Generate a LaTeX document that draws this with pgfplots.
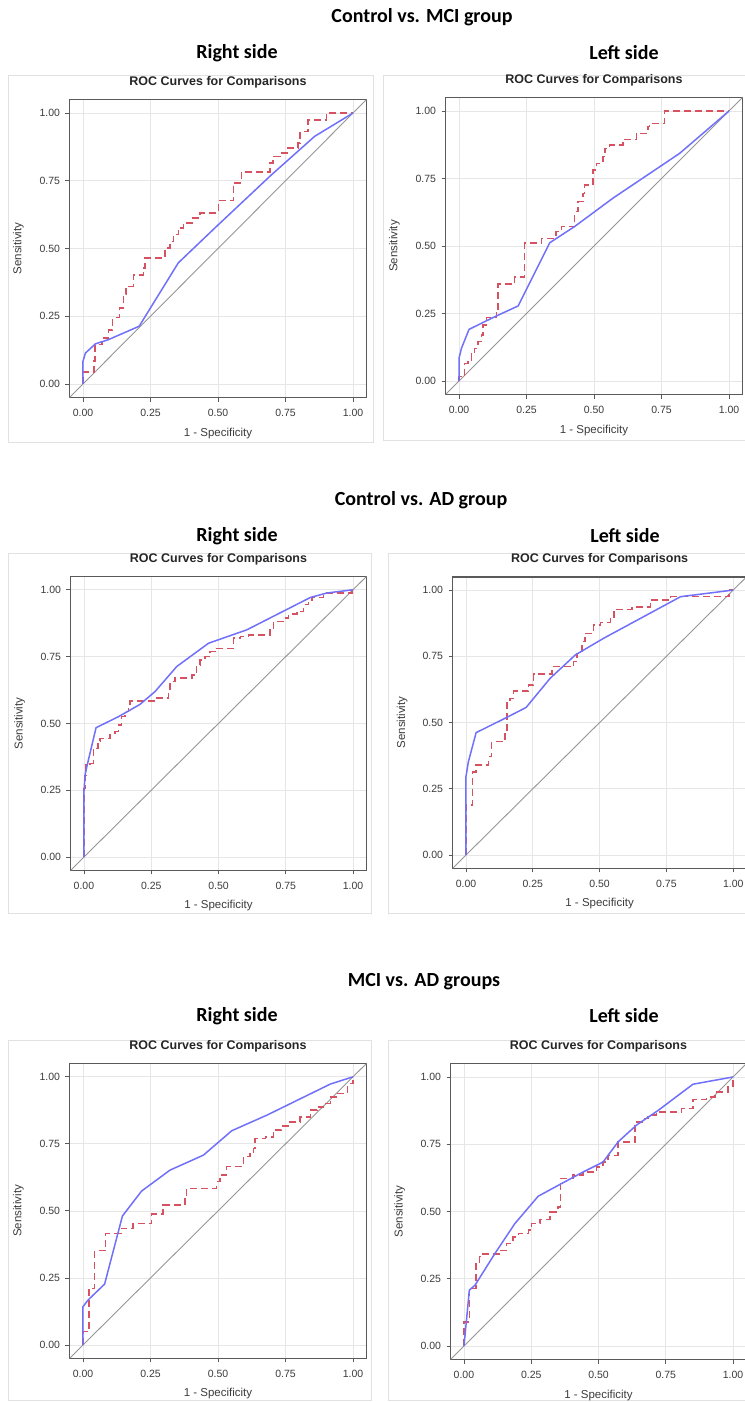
\documentclass[border=0pt]{standalone}
\usepackage{fontspec}
\setmainfont{Liberation Sans}
\newfontfamily\calibri{Carlito}
\usepackage{pgfplots}
\pgfplotsset{compat=1.18}

\definecolor{rocblue}{RGB}{112,112,250}
\definecolor{rocred}{RGB}{214,82,96}
\definecolor{diagc}{RGB}{150,150,150}
\definecolor{gridc}{RGB}{230,230,230}
\definecolor{axc}{RGB}{90,90,90}
\definecolor{txt}{RGB}{60,60,60}
\definecolor{framec}{RGB}{225,225,225}

\pgfplotsset{
  roc/.style={
    scale only axis, anchor=south west,
    xmin=-0.05, xmax=1.05, ymin=-0.05, ymax=1.05,
    xtick={0,0.25,0.5,0.75,1}, ytick={0,0.25,0.5,0.75,1},
    xticklabels={0.00,0.25,0.50,0.75,1.00},
    yticklabels={0.00,0.25,0.50,0.75,1.00},
    tick pos=left, tick align=outside, major tick length=4pt,
    grid=major, major grid style={draw=gridc, line width=0.8pt},
    axis line style={draw=axc, line width=1.4pt},
    tick style={draw=axc, line width=0.9pt},
    ticklabel style={font=\fontsize{10.5}{11}\selectfont, text=txt},
    xticklabel style={yshift=-4pt},
    yticklabel style={xshift=-2pt},
    title={ROC Curves for Comparisons},
    title style={at={(axis description cs:0.5,1)}, anchor=center, yshift=11.5pt,
      font=\bfseries\fontsize{12.5}{13}\selectfont, text=black!85},
    xlabel={1 - Specificity}, ylabel={Sensitivity},
    xlabel style={at={(axis description cs:0.5,-0.12)}, anchor=center,
      font=\fontsize{11.5}{12}\selectfont, text=txt},
    ylabel style={at={(axis description cs:-0.172,0.5)}, anchor=center,
      font=\fontsize{11.5}{12}\selectfont, text=txt},
  },
  diagline/.style={diagc, line width=0.9pt},
  bluecurve/.style={rocblue, line width=1.5pt},
  redcurve/.style={const plot, rocred, line width=1.5pt, dash pattern=on 7pt off 4pt},
}

\begin{document}
\begin{tikzpicture}
\path[use as bounding box] (0,0) rectangle (744pt,-1402pt);
\fill[white] (0,0) rectangle (744pt,-1402pt);

% panel frames
\draw[framec, line width=0.8pt] (8pt,-75pt) rectangle (373pt,-442pt);
\draw[framec, line width=0.8pt] (383pt,-75pt) rectangle (750pt,-440pt);
\draw[framec, line width=0.8pt] (8pt,-553pt) rectangle (371pt,-913pt);
\draw[framec, line width=0.8pt] (388pt,-553pt) rectangle (750pt,-913pt);
\draw[framec, line width=0.8pt] (8pt,-1040pt) rectangle (371pt,-1400pt);
\draw[framec, line width=0.8pt] (388pt,-1040pt) rectangle (750pt,-1400pt);

% headings
\node[font=\calibri\bfseries\fontsize{20}{22}\selectfont] at (422pt,-17pt) {Control vs. MCI group};
\node[font=\calibri\bfseries\fontsize{20}{22}\selectfont] at (237pt,-53pt) {Right side};
\node[font=\calibri\bfseries\fontsize{20}{22}\selectfont] at (624pt,-53pt) {Left side};
\node[font=\calibri\bfseries\fontsize{20}{22}\selectfont] at (421pt,-500pt) {Control vs. AD group};
\node[font=\calibri\bfseries\fontsize{20}{22}\selectfont] at (237pt,-536pt) {Right side};
\node[font=\calibri\bfseries\fontsize{20}{22}\selectfont] at (625pt,-536pt) {Left side};
\node[font=\calibri\bfseries\fontsize{20}{22}\selectfont] at (424pt,-982pt) {MCI vs. AD groups};
\node[font=\calibri\bfseries\fontsize{20}{22}\selectfont] at (237pt,-1016pt) {Right side};
\node[font=\calibri\bfseries\fontsize{20}{22}\selectfont] at (624pt,-1016pt) {Left side};

% Control vs MCI, right
\begin{axis}[roc, at={(69.5pt,-397.5pt)}, width=297pt, height=298pt]
\addplot[diagline] coordinates {(-0.05,-0.05) (1.05,1.05)};
\addplot[redcurve] table {
0 0
0 0.045
0.04 0.085
0.045 0.145
0.07 0.17
0.095 0.2
0.11 0.245
0.135 0.28
0.15 0.33
0.16 0.36
0.187 0.403
0.224 0.428
0.23 0.465
0.304 0.502
0.323 0.526
0.335 0.551
0.353 0.576
0.372 0.594
0.403 0.613
0.433 0.631
0.501 0.677
0.557 0.742
0.587 0.782
0.692 0.815
0.704 0.84
0.729 0.852
0.76 0.871
0.797 0.889
0.803 0.932
0.834 0.951
0.834 0.975
0.901 1.0
1.0 1.0
};
\addplot[bluecurve] coordinates {(0,0) (0,0.084) (0.009,0.114) (0.046,0.148) (0.095,0.164) (0.208,0.213) (0.353,0.447) (0.495,0.582) (0.698,0.772) (0.858,0.914) (1,1)};
\end{axis}

% Control vs MCI, left
\begin{axis}[roc, at={(445.5pt,-394.5pt)}, width=297pt, height=297pt]
\addplot[diagline] coordinates {(-0.05,-0.05) (1.05,1.05)};
\addplot[redcurve] table {
0 0
0 0.016
0.021 0.065
0.033 0.078
0.046 0.102
0.058 0.121
0.070 0.146
0.083 0.170
0.089 0.207
0.101 0.235
0.138 0.257
0.144 0.359
0.206 0.386
0.243 0.512
0.305 0.528
0.360 0.553
0.379 0.572
0.428 0.627
0.441 0.664
0.459 0.695
0.465 0.726
0.496 0.781
0.509 0.806
0.533 0.831
0.540 0.862
0.558 0.874
0.607 0.895
0.657 0.917
0.700 0.942
0.706 0.954
0.762 1.0
1 1
};
\addplot[bluecurve] coordinates {(0,0) (0,0.084) (0.009,0.121) (0.037,0.191) (0.126,0.235) (0.219,0.278) (0.336,0.512) (0.428,0.572) (0.570,0.677) (0.817,0.843) (1,1)};
\end{axis}

% Control vs AD, right
\begin{axis}[roc, at={(70.5pt,-870.4pt)}, width=296pt, height=294pt]
\addplot[diagline] coordinates {(-0.05,-0.05) (1.05,1.05)};
\addplot[redcurve] table {
0 0
0 0.256
0.004 0.306
0.007 0.344
0.022 0.35
0.035 0.406
0.053 0.434
0.06 0.444
0.097 0.459
0.115 0.469
0.128 0.494
0.14 0.525
0.153 0.544
0.165 0.556
0.171 0.584
0.264 0.596
0.314 0.619
0.32 0.656
0.339 0.669
0.401 0.681
0.419 0.719
0.432 0.738
0.45 0.75
0.469 0.769
0.488 0.781
0.556 0.819
0.581 0.825
0.612 0.831
0.692 0.85
0.705 0.881
0.742 0.894
0.761 0.909
0.792 0.919
0.816 0.944
0.835 0.956
0.847 0.971
0.891 0.988
0.996 1.0
1 1
};
\addplot[bluecurve] coordinates {(0,0) (0,0.244) (0.004,0.306) (0.012,0.344) (0.045,0.484) (0.128,0.525) (0.208,0.571) (0.264,0.619) (0.345,0.713) (0.463,0.8) (0.605,0.85) (0.841,0.971) (0.903,0.988) (1,1)};
\end{axis}

% Control vs AD, left
\begin{axis}[roc, at={(452.6pt,-868.3pt)}, width=294pt, height=291.5pt]
\addplot[diagline] coordinates {(-0.05,-0.05) (1.05,1.05)};
\addplot[redcurve] table {
0 0
0 0.189
0.025 0.314
0.038 0.340
0.084 0.371
0.096 0.428
0.146 0.465
0.153 0.579
0.165 0.591
0.178 0.620
0.234 0.642
0.253 0.683
0.321 0.711
0.403 0.730
0.415 0.761
0.434 0.805
0.446 0.836
0.478 0.868
0.503 0.878
0.54 0.891
0.553 0.927
0.621 0.937
0.69 0.962
0.765 0.975
0.984 1.0
1 1
};
\addplot[bluecurve] coordinates {(0,0) (0,0.296) (0.009,0.352) (0.038,0.462) (0.146,0.516) (0.225,0.557) (0.315,0.667) (0.409,0.755) (0.515,0.818) (0.803,0.975) (1,1)};
\end{axis}

% MCI vs AD, right
\begin{axis}[roc, at={(69.5pt,-1358.4pt)}, width=297pt, height=295pt]
\addplot[diagline] coordinates {(-0.05,-0.05) (1.05,1.05)};
\addplot[redcurve] table {
0 0
0 0.05
0.022 0.211
0.043 0.352
0.084 0.416
0.142 0.435
0.186 0.453
0.254 0.488
0.297 0.522
0.377 0.553
0.384 0.584
0.495 0.609
0.507 0.634
0.532 0.665
0.594 0.702
0.619 0.720
0.631 0.733
0.637 0.770
0.675 0.776
0.705 0.801
0.736 0.816
0.767 0.832
0.804 0.851
0.842 0.876
0.866 0.888
0.891 0.901
0.916 0.925
0.941 0.938
0.98 0.975
1 1
};
\addplot[bluecurve] coordinates {(0,0) (0,0.143) (0.019,0.168) (0.08,0.227) (0.146,0.481) (0.217,0.574) (0.322,0.652) (0.446,0.708) (0.551,0.799) (0.681,0.857) (0.916,0.973) (1,1)};
\end{axis}

% MCI vs AD, left
\begin{axis}[roc, at={(450.5pt,-1359.5pt)}, width=296pt, height=296pt]
\addplot[diagline] coordinates {(-0.05,-0.05) (1.05,1.05)};
\addplot[redcurve] table {
0 0
0 0.09
0.02 0.214
0.045 0.313
0.057 0.332
0.066 0.342
0.134 0.356
0.158 0.381
0.183 0.406
0.202 0.418
0.239 0.431
0.251 0.455
0.282 0.470
0.319 0.499
0.35 0.517
0.359 0.623
0.406 0.635
0.443 0.647
0.493 0.666
0.517 0.684
0.536 0.709
0.573 0.759
0.635 0.833
0.666 0.845
0.684 0.858
0.715 0.870
0.808 0.882
0.851 0.916
0.901 0.926
0.932 0.944
0.981 0.965
1 1
};
\addplot[bluecurve] coordinates {(0,0) (0.01,0.103) (0.02,0.208) (0.041,0.226) (0.115,0.344) (0.189,0.455) (0.276,0.557) (0.363,0.604) (0.443,0.647) (0.517,0.684) (0.573,0.759) (0.641,0.821) (0.722,0.876) (0.851,0.973) (1,1)};
\end{axis}
\end{tikzpicture}
\end{document}
